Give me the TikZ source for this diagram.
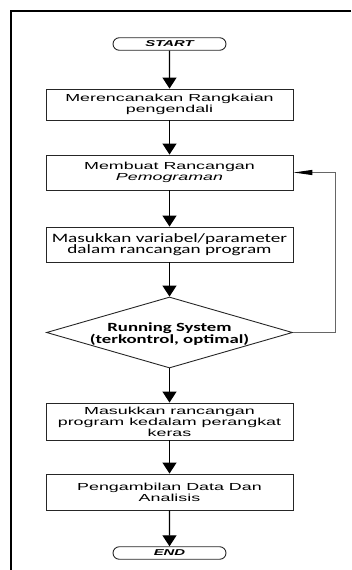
\documentclass[tikz,border=0pt]{standalone}
\usepackage{fontspec}
\usetikzlibrary{shapes.misc,shapes.geometric,arrows.meta}
\newfontfamily\arialw[FakeStretch=1.75]{Liberation Sans}
\newfontfamily\calw[FakeStretch=1.5]{Carlito}
\begin{document}
\begin{tikzpicture}[x=1pt,y=-1pt,
  boxnode/.style={draw=black!85,line width=0.9pt,minimum width=247pt,inner sep=0pt,align=center},
  arialtxt/.style={font=\arialw\fontsize{10.2}{11}\selectfont},
  caltxt/.style={font=\calw\fontsize{12.8}{11.5}\selectfont},
  termnode/.style={draw=black!85,line width=0.9pt,rounded rectangle,minimum width=113pt,minimum height=12.5pt,inner sep=0pt,font=\arialw\fontsize{8.5}{9}\selectfont\bfseries\itshape},
  flow/.style={line width=1.3pt,-{Triangle[width=14pt,length=11pt]}},
  back/.style={draw=black!60,line width=1pt,-{Triangle[width=5pt,length=19pt,fill=black,color=black]}}]
\useasboundingbox (0,0) rectangle (351,570);
\draw[line width=2.6pt] (351,11) -- (11,11) -- (11,570);
\node[termnode] (start) at (169.5,44) {START};
\node[boxnode,arialtxt,minimum height=31pt] (b1) at (169.5,104.5) {Merencanakan Rangkaian\\pengendali};
\node[boxnode,arialtxt,minimum height=35pt] (b2) at (169.5,172.5) {Membuat Rancangan\\\textit{Pemograman}};
\node[boxnode,caltxt,minimum height=35pt] (b3) at (169.5,244.5) {Masukkan variabel/parameter\\dalam rancangan program};
\node[draw=black!85,line width=0.9pt,diamond,minimum width=246pt,minimum height=71pt,inner sep=0pt] (d) at (169.5,332.5) {};
\node[font=\calw\fontsize{12.5}{12}\selectfont\bfseries,align=center,inner sep=0pt] (dt) at (169.5,334) {Running System\\(terkontrol, optimal)};
\node[boxnode,arialtxt,minimum height=37pt] (b4) at (169.5,421.5) {Masukkan rancangan\\program kedalam perangkat\\keras};
\node[boxnode,arialtxt,minimum height=36pt] (b5) at (169.5,492) {Pengambilan Data Dan\\Analisis};
\node[termnode] (end) at (169.5,553) {END};
\coordinate (c1) at (335,332.5);
\coordinate (c2) at (335,172.5);
\draw[flow] (start) -- (b1);
\draw[flow] (b1) -- (b2);
\draw[flow] (b2) -- (b3);
\draw[flow] (b3) -- (d);
\draw[flow] (d) -- (b4);
\draw[flow] (b4) -- (b5);
\draw[flow] (b5) -- (end);
\draw[back] (d.east) -- (c1) -- (c2) -- (b2.east);
\end{tikzpicture}
\end{document}
